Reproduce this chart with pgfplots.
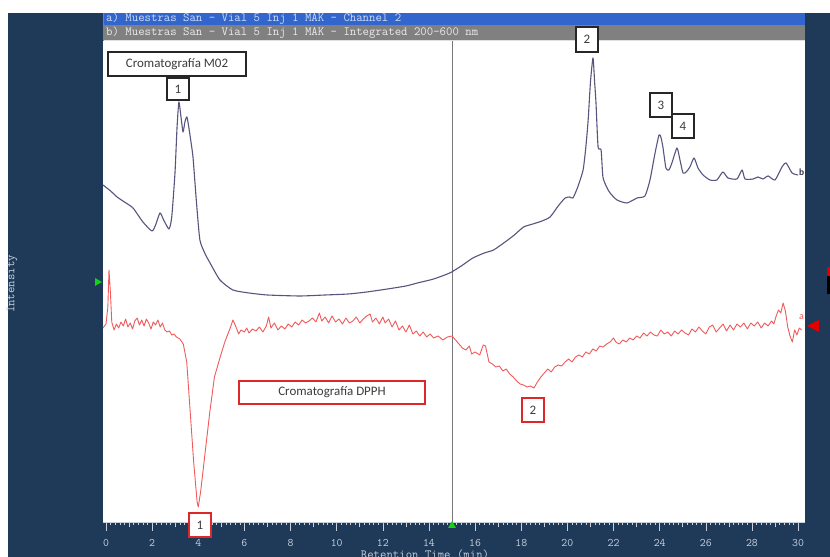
\documentclass[border=0pt]{standalone}
\usepackage{fontspec}
\setmainfont{Carlito}
\usepackage{pgfplots}
\pgfplotsset{compat=1.18}
\definecolor{navy}{RGB}{30,58,88}
\definecolor{hdrblue}{RGB}{51,102,204}
\definecolor{hdrgray}{RGB}{128,128,128}
\definecolor{curveb}{RGB}{85,85,125}
\definecolor{curvea}{RGB}{240,90,90}
\definecolor{ticklab}{RGB}{200,208,220}
\definecolor{boxtext}{RGB}{60,60,60}
\definecolor{boxred}{RGB}{220,40,40}
\definecolor{cursor}{RGB}{120,120,120}
\definecolor{mkgreen}{RGB}{20,210,20}

\pgfplotstableread{
t I
-0.13 337
0.2 331
0.48 325
0.8 320
1.17 314
1.6 300
1.99 291
2.15 297
2.34 309
2.5 302
2.73 293
2.85 305
2.99 349
3.08 395
3.16 420
3.25 405
3.34 390
3.42 400
3.51 405
3.62 390
3.77 365
3.92 320
4.07 282
4.3 268
4.51 259
4.94 242
5.5 232
6.2 229
7.0 227
8.4 226
9.5 227
10.5 228
11.3 230
12.2 233
13.0 236
13.5 239
14.2 243
14.9 249
15.4 256
15.9 264
16.4 269
16.8 272
17.3 280
17.7 287
18.1 295
18.5 298
18.9 301
19.25 305
19.6 316
19.9 324
20.1 325
20.24 324
20.45 335
20.68 352
20.8 375
20.9 402
21.0 440
21.11 464
21.18 440
21.24 419
21.33 375
21.46 372
21.54 345
21.7 335
21.85 329
22.15 322
22.58 319
23.02 324
23.36 326
23.58 342
23.8 369
23.97 387
24.05 385
24.14 375
24.27 354
24.4 352
24.53 359
24.75 374
24.88 362
25.01 349
25.15 350
25.31 355
25.49 364
25.66 354
25.88 347
26.18 342
26.48 342
26.74 350
26.96 344
27.35 343
27.57 352
27.7 343
28.05 343
28.26 345
28.48 343
28.7 346
29.0 342
29.3 355
29.48 359
29.74 349
30.0 347
}\chromb

\pgfplotstableread{
t I
-0.13 194
0.0 198
0.08 215
0.13 252
0.19 230
0.25 200
0.35 192
0.45 198
0.55 194
0.65 200
0.75 196
0.85 203
0.95 195
1.05 199
1.15 193
1.25 201
1.35 204
1.45 197
1.55 202
1.65 196
1.75 203
1.85 199
1.95 193
2.05 200
2.15 197
2.25 202
2.35 195
2.45 199
2.55 192
2.65 190
2.75 191
2.85 187
2.95 188
3.05 185
3.2 183
3.35 178
3.5 160
3.65 110
3.8 60
3.95 20
4.0 15
4.1 30
4.25 60
4.5 110
4.7 145
4.95 165
5.15 180
5.4 195
5.5 202
5.6 197
5.75 188
5.85 192
6.0 190
6.1 194
6.2 189
6.35 193
6.5 191
6.65 195
6.8 190
6.95 196
7.05 205
7.15 194
7.3 199
7.45 192
7.6 196
7.75 193
7.9 198
8.05 195
8.2 200
8.35 197
8.5 202
8.65 199
8.8 201
8.95 204
9.1 200
9.25 209
9.35 201
9.5 205
9.65 199
9.8 206
9.95 200
10.1 203
10.25 198
10.4 204
10.55 199
10.7 201
10.85 205
11.0 199
11.15 203
11.3 206
11.45 208
11.55 200
11.7 204
11.85 198
12.0 205
12.1 199
12.25 203
12.4 195
12.55 201
12.7 192
12.85 196
13.0 190
13.15 197
13.3 188
13.45 191
13.6 186
13.75 190
13.9 185
14.05 188
14.2 184
14.4 186
14.6 182
14.8 185
15.0 186
15.15 182
15.3 178
15.45 174
15.6 172
15.75 176
15.85 168
16.0 170
16.2 167
16.35 177
16.45 176
16.6 160
16.75 158
16.9 155
17.05 156
17.2 151
17.35 153
17.5 148
17.65 145
17.8 141
17.95 138
18.1 137
18.25 135
18.4 136
18.55 134
18.7 140
18.85 145
19.0 149
19.15 153
19.3 150
19.45 155
19.6 157
19.75 156
19.9 160
20.05 163
20.2 160
20.35 165
20.5 167
20.65 165
20.8 170
20.95 168
21.1 173
21.25 171
21.4 176
21.55 175
21.7 178
21.85 180
22.0 184
22.1 180
22.25 178
22.4 182
22.55 180
22.7 184
22.85 182
23.0 186
23.15 184
23.3 189
23.45 186
23.6 190
23.75 187
23.9 186
24.05 192
24.2 188
24.35 190
24.5 186
24.65 191
24.8 188
24.95 192
25.1 189
25.25 187
25.4 193
25.55 190
25.7 195
25.85 191
26.0 188
26.15 195
26.3 197
26.45 190
26.6 194
26.75 198
26.9 191
27.05 197
27.2 192
27.35 198
27.5 195
27.65 199
27.8 193
27.95 199
28.1 196
28.25 200
28.4 194
28.55 199
28.7 196
28.85 201
28.95 198
29.05 206
29.15 212
29.25 209
29.35 219
29.45 211
29.55 195
29.65 186
29.75 180
29.85 192
29.95 187
30.05 194
30.15 192
}\chroma

\begin{document}
\begin{tikzpicture}[x=1bp,y=1bp]
\clip (0,0) rectangle (830,557);
\fill[white] (0,0) rectangle (830,557);
\fill[navy] (8,0) rectangle (830,544);
\fill[white] (103,35) rectangle (805,544);
\begin{axis}[
  at={(103bp,35bp)}, anchor=south west,
  width=702bp, height=509bp, scale only axis,
  xmin=-0.13, xmax=30.3, ymin=0, ymax=509,
  axis x line*=bottom, axis y line=none, ytick=\empty,
  x axis line style={-, draw=ticklab, line width=0.8bp},
  xtick={0,2,...,30}, minor x tick num=9,
  tick align=outside, major tick length=9bp, minor tick length=3bp,
  tick style={draw=ticklab, line width=0.6bp},
  extra x ticks={1,3,...,29}, extra x tick labels={},
  extra x tick style={major tick length=5.5bp},
  /pgf/number format/assume math mode=true,
  xticklabel style={font=\ttfamily\fontsize{11.5}{11.5}\selectfont, text=ticklab, yshift=-5bp},
  clip=false,
]
\draw[cursor, line width=1bp] (axis cs:15,0) -- (axis cs:15,482);
\addplot[curvea, line width=0.9bp, line join=round] table[x=t,y=I] {\chroma};
\addplot[curveb, line width=1.1bp, smooth, tension=0.35, line join=round] table[x=t,y=I] {\chromb};
\end{axis}
% header bars
\fill[hdrgray] (103,517) rectangle (805,532);
\fill[hdrblue] (103,532) rectangle (805,544);
\draw[white!75!gray, line width=1.2bp] (103,516.5) -- (805,516.5);
\draw[gray, line width=1bp] (103.5,516) -- (103.5,544);
\node[anchor=west, inner sep=0, text={rgb,255:red,205;green,220;blue,245}, font=\ttfamily\fontsize{12.5}{12.5}\selectfont] at (106,538) {a) Muestras San - Vial 5 Inj 1 MAK - Channel 2};
\node[anchor=west, inner sep=0, text={rgb,255:red,235;green,235;blue,235}, font=\ttfamily\fontsize{12.5}{12.5}\selectfont] at (106,524.5) {b) Muestras San - Vial 5 Inj 1 MAK - Integrated 200-600 nm};
% markers
\fill[mkgreen] (448,29) -- (456,29) -- (452,36) -- cycle;
\fill[mkgreen] (95,271) -- (95,279) -- (102,275) -- cycle;
\fill[red!90!black] (807,231) -- (819,237) -- (819,225) -- cycle;
\fill[red!85!black] (827,281) rectangle (830,290);
\fill[black] (827,263) rectangle (830,281);
% curve labels
\node[anchor=west, inner sep=0, text=curveb!60!black, font=\bfseries\fontsize{9.5}{9.5}\selectfont] at (799,385) {b};
\node[anchor=west, inner sep=0, text=curvea, font=\fontsize{10}{10}\selectfont] at (799,240) {a};
% axis texts
\node[rotate=90, text=ticklab, font=\ttfamily\fontsize{12.5}{12.5}\selectfont] at (12,273) {Intensity};
\node[anchor=base, text=ticklab, font=\ttfamily\fontsize{12.5}{12.5}\selectfont] at (425,-1.5) {Retention Time (min)};
% annotation boxes
\tikzset{bx/.style={draw=black!85, line width=1.2bp, fill=white}, rbx/.style={draw=boxred, line width=1.2bp, fill=white}, bt/.style={text=boxtext, font=\fontsize{13}{13}\selectfont, inner sep=0}}
\draw[bx] (108,481) rectangle (246,505); \node[bt] at (177,493) {Cromatografía M02};
\draw[bx] (167,457) rectangle (189,479); \node[bt] at (178,468) {1};
\draw[bx] (576,505) rectangle (598,530); \node[bt] at (587,517.5) {2};
\draw[bx] (650,440) rectangle (672,464); \node[bt] at (661,452) {3};
\draw[bx] (672,419) rectangle (694,443); \node[bt] at (683,431) {4};
\draw[rbx] (239,153) rectangle (425,176); \node[bt] at (332,164.5) {Cromatografía DPPH};
\draw[rbx] (189,20) rectangle (211,44); \node[bt] at (200,32) {1};
\draw[rbx] (522,135) rectangle (544,159); \node[bt] at (533,147) {2};
\end{tikzpicture}
\end{document}
